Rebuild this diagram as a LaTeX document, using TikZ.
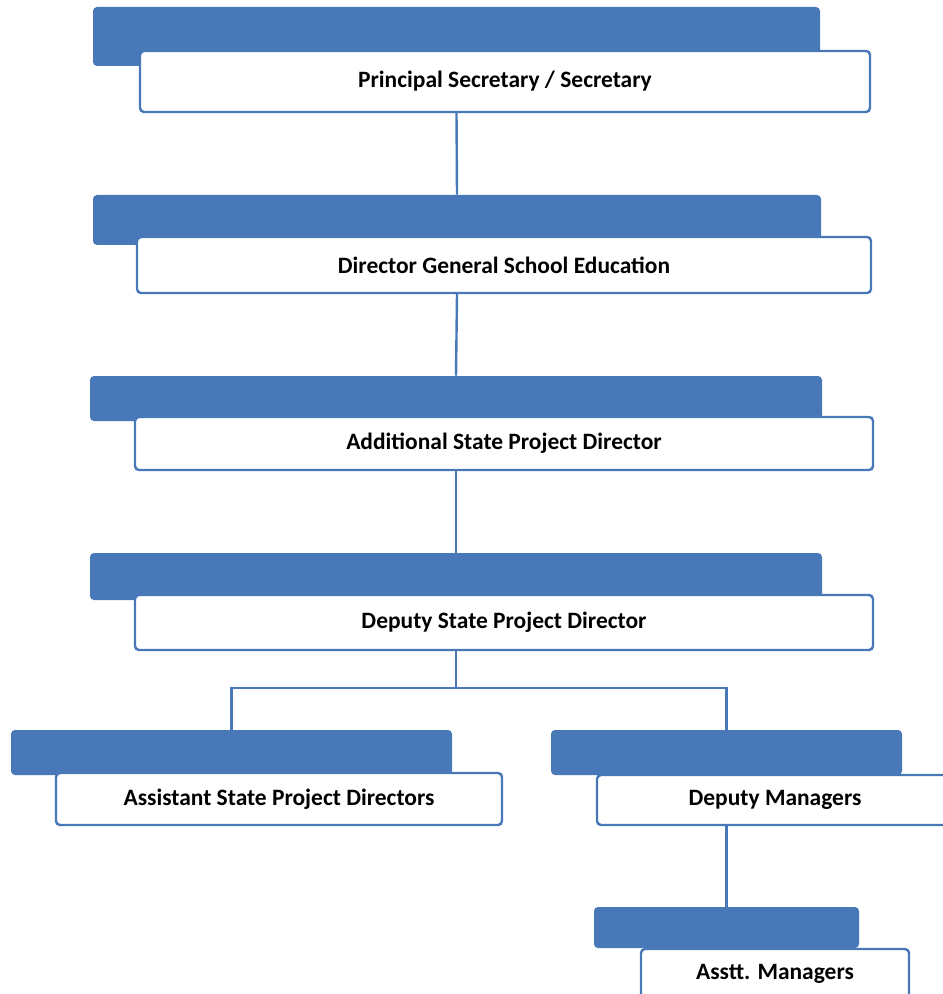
\documentclass[tikz,border=0pt]{standalone}
\usepackage{fontspec}
\setmainfont{Carlito}
\usepackage{xcolor}
\usepackage{tikz}
\usetikzlibrary{positioning}

\definecolor{orgblue}{HTML}{4878B8}
\tikzset{
  band/.style={draw=none, fill=orgblue, rounded corners=3pt, inner sep=0pt},
  post/.style={draw=orgblue, line width=1.8pt, fill=white, rounded corners=3pt,
    inner sep=0pt, font=\bfseries\fontsize{17.6}{20}\selectfont},
  link/.style={orgblue, line width=1.8pt}
}

\begin{document}
\begin{tikzpicture}[x=0.75pt,y=-0.75pt]
  \useasboundingbox (0,0) rectangle (942,994);

  \foreach \n/\bx/\by/\bw/\bh/\tx/\ty/\tw/\th/\label in {
    secy/456.5/36.5/727/59/505/81.5/730/61/{Principal Secretary / Secretary},
    dgse/457/220/728/50/504/265/734/56/{Director General School Education},
    aspd/456/398.5/732/45/504/443.5/738/53/{Additional State Project Director},
    dspd/456/576.5/732/47/504/622.5/738/55/{Deputy State Project Director},
    aspds/231.5/752.5/441/45/279/799/446/52/{Assistant State Project Directors},
    dmgr/726.5/752.5/351/45/775/800/356/50/{Deputy Managers},
    amgr/726.5/927.5/265/41/775/974/268/50/{Asstt. Managers}}
  {
    \node[band, minimum width=\bw*0.75pt, minimum height=\bh*0.75pt] (\n B) at (\bx,\by) {};
    \node[post, minimum width=\tw*0.75pt, minimum height=\th*0.75pt] (\n) at (\tx,\ty) {\label};
  }

  \draw[link] (secyB |- secy.south) -- (dgseB.north);
  \draw[link] (dgseB |- dgse.south) -- (aspdB.north);
  \draw[link] (aspdB |- aspd.south) -- (dspdB.north);
  \coordinate (split) at (456,688);
  \draw[link] (dspdB |- dspd.south) -- (split);
  \draw[link] (aspdsB.north) |- (split) -| (dmgrB.north);
  \draw[link] (dmgrB |- dmgr.south) -- (amgrB.north);
\end{tikzpicture}
\end{document}
